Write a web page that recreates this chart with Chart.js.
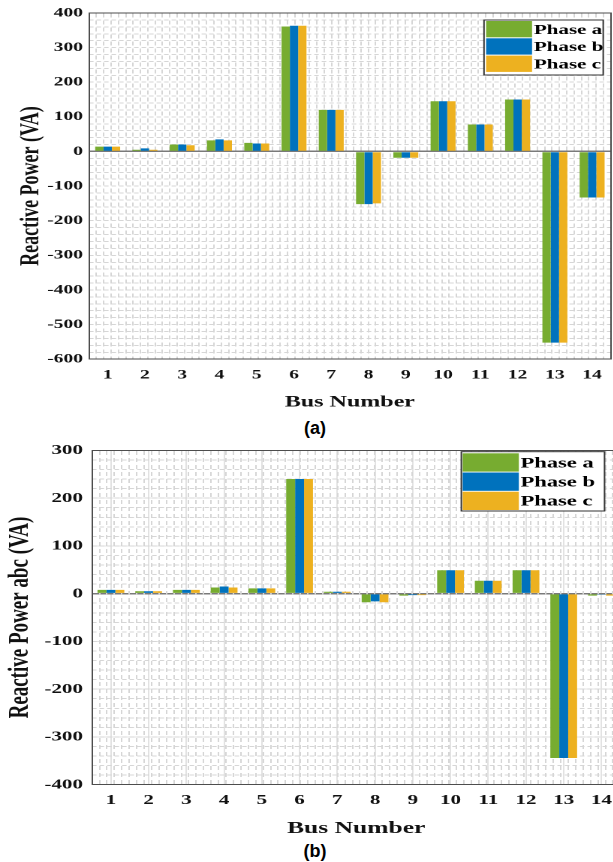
<!DOCTYPE html>
<html>
<head>
<meta charset="utf-8">
<title>Reactive power per bus</title>
<script src="https://cdn.jsdelivr.net/npm/chart.js@4.4.1/dist/chart.umd.min.js"></script>
<style>
  html, body { margin: 0; padding: 0; background: #fff; }
  body { width: 613px; height: 862px; position: relative; overflow: hidden; }
  .panel { position: absolute; left: 0; width: 613px; overflow: hidden; }
  .panel canvas { display: block; }
  .caption { position: absolute; left: 0; width: 630px; text-align: center;
             font: bold 18px "Liberation Sans", Arial, sans-serif; color: #000; }
</style>
</head>
<body>
<!-- the original figure is stretched sideways, so each canvas is drawn narrow and widened 1.5x by css -->
<div class="panel" style="top:0;height:412px">
  <canvas id="chartA" width="409" height="412" style="width:613.5px;height:412px"></canvas>
</div>
<div class="caption" style="top:418px">(a)</div>
<div class="panel" style="top:436px;height:403px">
  <canvas id="chartB" width="415" height="403" style="width:622.5px;height:403px"></canvas>
</div>
<div class="caption" style="top:841px">(b)</div>

<script>
const busNumbers  = ['1', '2', '3', '4', '5', '6', '7', '8', '9', '10', '11', '12', '13', '14'];
const phaseNames  = ['Phase a', 'Phase b', 'Phase c'];
const phaseColors = ['#77ac30', '#0072bd', '#edb120'];

// (a) reactive power per phase (VA)
const phaseA_a = [14, 5, 20, 32, 25, 361, 120, -152, -18, 145, 78, 150, -552, -133];
const phaseB_a = [14, 9, 20, 35, 23, 363, 120, -152, -18, 145, 78, 150, -552, -133];
const phaseC_a = [14, 5, 18, 32, 23, 363, 120, -150, -18, 145, 78, 150, -552, -133];
const yRange_a = [-600, 400];

// (b) reactive power abc (VA)
const phaseA_b = [8, 5, 8, 13, 11, 240, 4, -18, -4, 49, 27, 49, -344, -4];
const phaseB_b = [8, 5, 8, 15, 11, 240, 4, -16, -3, 49, 27, 49, -344, -2];
const phaseC_b = [8, 5, 8, 13, 11, 240, 4, -18, -3, 49, 27, 49, -344, -4];
const yRange_b = [-400, 300];

const SERIF = '"Liberation Serif", "Times New Roman", serif';
const axisColor = '#4d4d4d';
const minorGrid = '#d6d6d6';
const textColor = '#111';

// boxed legend sitting inside the plot, top right (MATLAB style)
const boxLegend = {
  id: 'boxLegend',
  afterDatasetsDraw(chart, args, o) {
    const ctx = chart.ctx;
    ctx.save();
    ctx.fillStyle = '#fff';
    ctx.fillRect(o.x, o.y, o.w, o.h);
    ctx.strokeStyle = '#333';
    ctx.lineWidth = 1;
    ctx.strokeRect(o.x, o.y, o.w, o.h);
    ctx.font = `bold ${o.size}px ${SERIF}`;
    ctx.textBaseline = 'middle';
    ctx.textAlign = 'left';
    chart.data.datasets.forEach((ds, i) => {
      const top = o.rowTop + i * o.rowH;
      ctx.fillStyle = ds.backgroundColor;
      ctx.fillRect(o.swatchX, top, o.swatchW, o.swatchH);
      ctx.fillStyle = '#000';
      ctx.fillText(ds.label, o.textX, top + o.swatchH / 2 + 1);
    });
    ctx.restore();
  }
};

function buildChart(id, series, yRange, yTitle, look) {
  return new Chart(document.getElementById(id), {
    type: 'bar',
    plugins: [boxLegend],
    data: {
      labels: busNumbers,
      datasets: series.map((vals, i) => ({
        label: phaseNames[i],
        data: vals,
        backgroundColor: phaseColors[i],
        borderWidth: 0,
        barPercentage: 1,
        categoryPercentage: look.group,
      })),
    },
    options: {
      responsive: false,
      animation: false,
      devicePixelRatio: 2,
      layout: { padding: look.pad },
      plugins: {
        legend: { display: false },
        tooltip: { enabled: false },
        boxLegend: look.legend,
      },
      scales: {
        x: {
          type: 'category',
          offset: true,
          grid: { display: look.majorGrid, offset: false, drawTicks: false, color: '#e2e2e2' },
          border: { color: axisColor, width: 1 },
          ticks: {
            color: textColor, padding: look.xTickPad, maxRotation: 0, autoSkip: false,
            font: { family: SERIF, size: look.tickSize, weight: 'bold' },
          },
          title: {
            display: true, text: 'Bus Number', color: textColor,
            padding: { top: look.xTitlePad, bottom: 0 },
            font: { family: SERIF, size: look.xTitleSize, weight: 'bold' },
          },
        },
        y: {
          min: yRange[0],
          max: yRange[1],
          afterFit: s => { s.width = look.yWidth; },
          grid: {
            drawTicks: false,
            lineWidth: c => (c.tick && c.tick.value === 0 ? 1.5 : 1),
            color: c => (c.tick && c.tick.value === 0 ? '#7a7a7a' : (look.majorGrid ? '#e2e2e2' : 'rgba(0,0,0,0)')),
          },
          border: { color: axisColor, width: 1 },
          ticks: {
            stepSize: 100, color: textColor, padding: look.yTickPad,
            font: { family: SERIF, size: look.tickSize, weight: 'bold' },
          },
          title: {
            display: true, text: yTitle, color: textColor,
            padding: { top: 0, bottom: 0 },
            font: { family: SERIF, size: look.yTitleSize, weight: 'bold' },
          },
        },
        // hidden axes that only carry the fine dotted grid and the top/right box edges
        xg: {
          type: 'linear', position: 'top', min: 0.5, max: 14.5,
          afterFit: s => { s.height = 0; },
          ticks: { display: false, stepSize: 0.2 },
          grid: { drawTicks: false, color: minorGrid },
          border: { color: axisColor, width: 1, dash: [4, 3] },
        },
        yg: {
          type: 'linear', position: 'right', min: yRange[0], max: yRange[1],
          afterFit: s => { s.width = 0; },
          ticks: { display: false, stepSize: 20 },
          grid: {
            drawTicks: false,
            color: c => (c.tick && c.tick.value === 0 ? 'rgba(0,0,0,0)' : minorGrid),
          },
          border: { color: axisColor, width: 1, dash: [3, 2] },
        },
      },
    },
  });
}

buildChart('chartA', [phaseA_a, phaseB_a, phaseC_a], yRange_a, 'Reactive Power (VA)', {
  group: 0.67,
  pad: { top: 13, left: 10, right: 1, bottom: 0 },
  yWidth: 49.3,
  majorGrid: false,
  tickSize: 13, xTickPad: 8, yTickPad: 4,
  xTitleSize: 16, xTitlePad: 2, yTitleSize: 18,
  legend: { x: 322.4, y: 20, w: 79.4, h: 55, rowTop: 21, rowH: 17.3, swatchX: 323.8, swatchW: 30.6, swatchH: 16.3, textX: 355.6, size: 14 },
});

buildChart('chartB', [phaseA_b, phaseB_b, phaseC_b], yRange_b, 'Reactive Power abc (VA)', {
  group: 0.71,
  pad: { top: 11, left: 2, right: 1.7, bottom: 0 },
  yWidth: 59.3,
  majorGrid: true,
  tickSize: 14, xTickPad: 7.3, yTickPad: 6,
  xTitleSize: 17, xTitlePad: 2.5, yTitleSize: 19,
  legend: { x: 307.3, y: 15.7, w: 95.4, h: 59.3, rowTop: 17.3, rowH: 19.2, swatchX: 308.2, swatchW: 37.4, swatchH: 18.3, textX: 346.7, size: 15 },
});
</script>
</body>
</html>
